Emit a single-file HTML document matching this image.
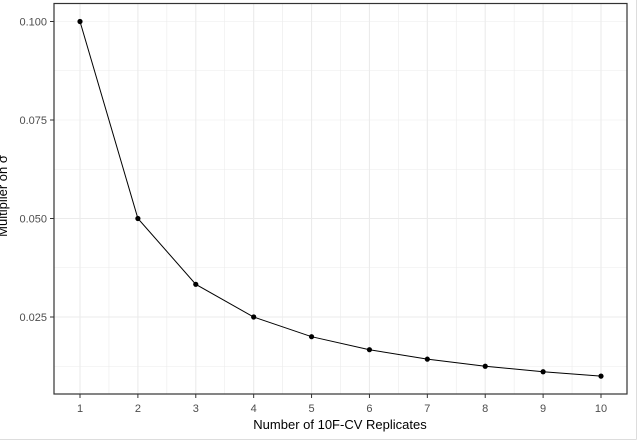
<!DOCTYPE html>
<html><head><meta charset="utf-8"><style>
body{margin:0;background:#fff;}
text{font-family:"Liberation Sans",sans-serif;}
</style></head><body>
<svg id="c" width="642" height="443" xmlns="http://www.w3.org/2000/svg">
<rect x="0" y="0" width="642" height="443" fill="#fff"/>
<line x1="636.5" y1="0" x2="636.5" y2="439.5" stroke="#ddd"/>
<line x1="0" y1="439.5" x2="636.5" y2="439.5" stroke="#ddd"/>
<g id="grid"></g><g id="marks"></g><g id="axes"></g>
<rect x="54" y="3.5" width="573" height="390.5" fill="none" stroke="#333" stroke-width="1.2"/>
<text x="340" y="429" font-size="13" text-anchor="middle" fill="#000">Number of 10F-CV Replicates</text>
<text transform="translate(7,196) rotate(-90)" font-size="13" text-anchor="middle" fill="#000">Multiplier on σ</text>
</svg>
<script>
const xs=[1,2,3,4,5,6,7,8,9,10];
const ys=[0.1,0.05,0.0333,0.025,0.02,0.0167,0.0143,0.0125,0.0111,0.01];
const yTicks=[0.025,0.05,0.075,0.1];
const yTickLabels=["0.025","0.050","0.075","0.100"];
const NS="http://www.w3.org/2000/svg";
const X=v=>80+(v-1)*(601-80)/9;
const Y=v=>21.5+(0.1-v)*(218.5-21.5)/0.05;
function mk(p,t,a){const e=document.createElementNS(NS,t);for(const k in a)e.setAttribute(k,a[k]);document.getElementById(p).appendChild(e);return e;}
for(let v=1;v<=10;v+=0.5){const l=mk('grid','line',{x1:X(v),x2:X(v),y1:3.5,y2:394,stroke:'#ebebeb','stroke-width':v%1?0.6:1.1});

}
for(let v=0.0125;v<=0.1001;v+=0.0125){const l=mk('grid','line',{x1:54,x2:627,y1:Y(v),y2:Y(v),stroke:'#ebebeb','stroke-width':Math.abs((v/0.025)%1)>0.1?0.6:1.1});

}
const pl=mk('marks','polyline',{points:xs.map((x,i)=>X(x)+','+Y(ys[i])).join(' '),fill:'none',stroke:'#000','stroke-width':1});


xs.forEach((x,i)=>{const c=mk('marks','circle',{cx:X(x),cy:Y(ys[i]),r:2.6,fill:'#000'});

});
xs.forEach(x=>{const t=mk('axes','line',{x1:X(x),x2:X(x),y1:394,y2:398,stroke:'#333'});


const l=mk('axes','text',{x:X(x),y:412,'font-size':11,'text-anchor':'middle',fill:'#4d4d4d'});l.textContent=x;

});
yTicks.forEach((v,i)=>{const t=mk('axes','line',{x1:50,x2:54,y1:Y(v),y2:Y(v),stroke:'#333'});


const l=mk('axes','text',{x:47,y:Y(v)+4,'font-size':11,'text-anchor':'end',fill:'#4d4d4d'});l.textContent=yTickLabels[i];

});
</script>
</body></html>
